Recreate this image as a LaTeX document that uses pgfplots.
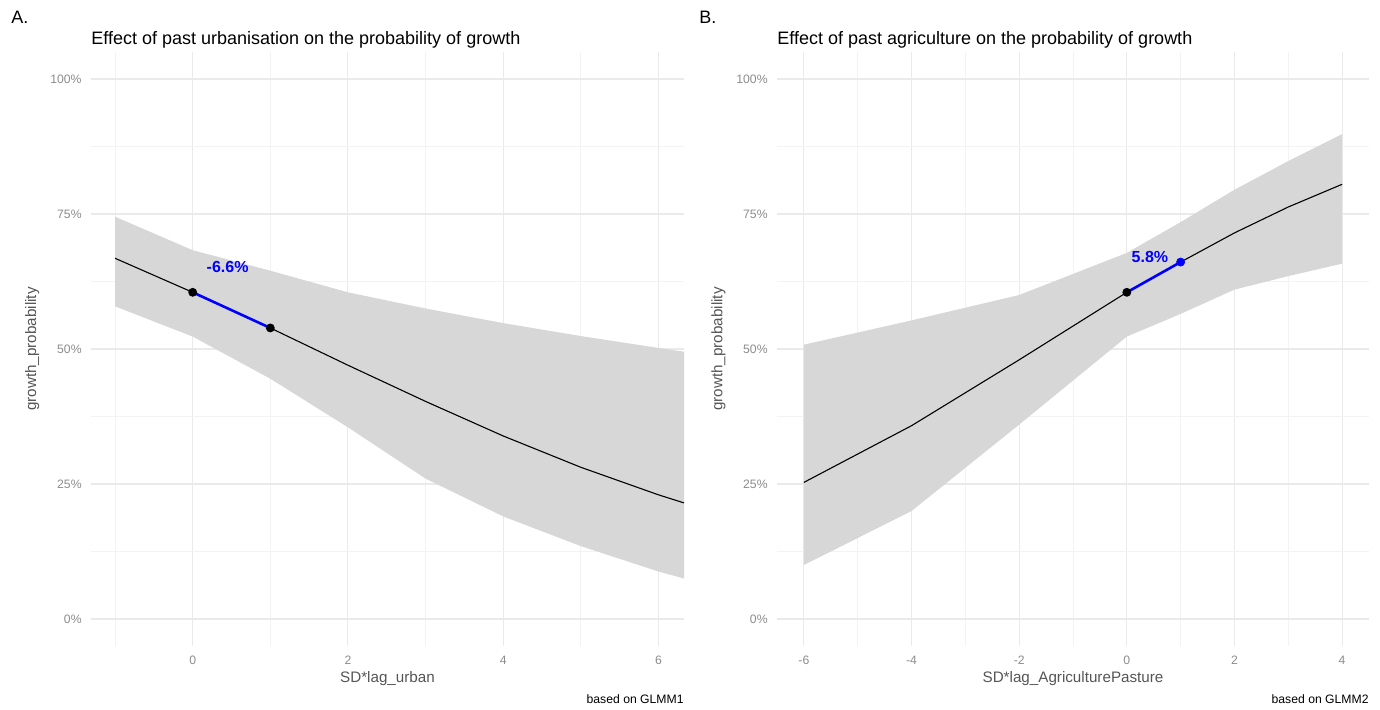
\documentclass[border=0pt]{standalone}
\usepackage{pgfplots}
\pgfplotsset{compat=1.18}
\usepgfplotslibrary{fillbetween}
\usepackage{fontspec}
\setmainfont{Liberation Sans}
\definecolor{gridmaj}{RGB}{234,234,234}
\definecolor{gridmin}{RGB}{243,243,243}
\definecolor{ribbon}{RGB}{215,215,215}
\definecolor{ticklab}{RGB}{140,140,140}
\definecolor{axtitle}{RGB}{85,85,85}
\definecolor{annblue}{RGB}{0,0,255}

\tikzset{
  titlefont/.style={font=\fontsize{9.0}{11}\selectfont, inner sep=0pt, text=black},
  capfont/.style={font=\fontsize{6.1}{7}\selectfont, inner sep=0pt, text=black},
  annfont/.style={font=\bfseries\fontsize{8}{9}\selectfont, text=annblue, inner sep=0pt},
}
\pgfplotsset{
  panel/.style={
    anchor=south west, scale only axis,
    ymin=-5, ymax=105,
    ytick={0,25,50,75,100}, minor ytick={12.5,37.5,62.5,87.5},
    grid=both,
    major grid style={line width=0.55pt, draw=gridmaj},
    minor grid style={line width=0.35pt, draw=gridmin},
    axis line style={draw=none},
    major tick length=0pt, minor tick length=0pt,
    tick label style={font=\fontsize{6.1}{7}\selectfont, text=ticklab, inner sep=0pt},
    /pgf/number format/assume math mode=true,
    yticklabel={\pgfmathprintnumber{\tick}\%},
    xticklabel style={yshift=-5pt},
    yticklabel style={xshift=-4.5pt},
    label style={font=\fontsize{7.6}{9}\selectfont, text=axtitle, inner sep=0pt},
    xlabel style={at={(axis description cs:0.5,-0.054)}, anchor=center},
    ylabel style={at={(axis description cs:-0.099,0.5)}, anchor=center},
    ylabel={growth\_probability},
    clip mode=individual,
  },
}

\begin{document}
\begin{tikzpicture}
% ---------------- Panel A ----------------
\begin{axis}[panel,
  at={(45.5pt,31.5pt)}, width=296.5pt, height=297pt,
  xmin=-1.31, xmax=6.33,
  xtick={0,2,4,6}, minor xtick={-1,1,3,5},
  xlabel={SD*lag\_urban},
]
\addplot[name path=upA, draw=none] coordinates {
(-1,74.5) (0,68.3) (1,64.5) (2,60.5) (3,57.5) (4,54.8) (5,52.4) (6,50.2) (6.33,49.5)};
\addplot[name path=loA, draw=none] coordinates {
(-1,57.9) (0,52.3) (1,44.5) (2,35.5) (3,26.0) (4,19.0) (5,13.5) (6,8.8) (6.33,7.5)};
\addplot[fill=ribbon, draw=none] fill between[of=upA and loA];
\addplot[black, line width=0.55pt] coordinates {
(-1,66.8) (0,60.5) (1,53.9) (2,47.0) (3,40.3) (4,33.9) (5,28.1) (6,23.0) (6.33,21.5)};
\addplot[annblue, line width=1.3pt] coordinates {(0,60.5) (1,53.9)};
\addplot[only marks, mark=*, mark size=2pt, black] coordinates {(0,60.5) (1,53.9)};
\node[annfont, anchor=center] at (axis cs:0.45,65.1) {-6.6\%};
\node[titlefont, anchor=base west] at (axis description cs:0,1.0126) {Effect of past urbanisation on the probability of growth};
\node[capfont, anchor=base east] at (axis description cs:1,-0.0968) {based on GLMM1};
\end{axis}

% ---------------- Panel B ----------------
\begin{axis}[panel,
  at={(388.5pt,31.5pt)}, width=296pt, height=297pt,
  xmin=-6.5, xmax=4.5,
  xtick={-6,-4,-2,0,2,4}, minor xtick={-5,-3,-1,1,3},
  xlabel={SD*lag\_AgriculturePasture},
]
\addplot[name path=upB, draw=none] coordinates {
(-6,50.8) (-4,55.3) (-2,60.0) (0,67.8) (1,73.5) (2,79.5) (3,84.8) (4,89.8)};
\addplot[name path=loB, draw=none] coordinates {
(-6,10.0) (-4,20.0) (-2,36.0) (0,52.3) (1,56.5) (2,61.0) (3,63.5) (4,65.8)};
\addplot[fill=ribbon, draw=none] fill between[of=upB and loB];
\addplot[black, line width=0.55pt] coordinates {
(-6,25.3) (-4,35.8) (-2,48.0) (0,60.5) (1,66.1) (2,71.5) (3,76.3) (4,80.5)};
\addplot[annblue, line width=1.3pt] coordinates {(0,60.5) (1,66.1)};
\addplot[only marks, mark=*, mark size=2pt, black] coordinates {(0,60.5)};
\addplot[only marks, mark=*, mark size=2pt, annblue] coordinates {(1,66.1)};
\node[annfont, anchor=center] at (axis cs:0.43,67.0) {5.8\%};
\node[titlefont, anchor=base west] at (axis description cs:0,1.0126) {Effect of past agriculture on the probability of growth};
\node[capfont, anchor=base east] at (axis description cs:1,-0.0968) {based on GLMM2};
\end{axis}

\node[titlefont, anchor=base west] at (5.5pt,342.5pt) {A.};
\node[titlefont, anchor=base west] at (349.5pt,342.5pt) {B.};
\path (0,0) rectangle (690pt,354.5pt);
\end{tikzpicture}
\end{document}
